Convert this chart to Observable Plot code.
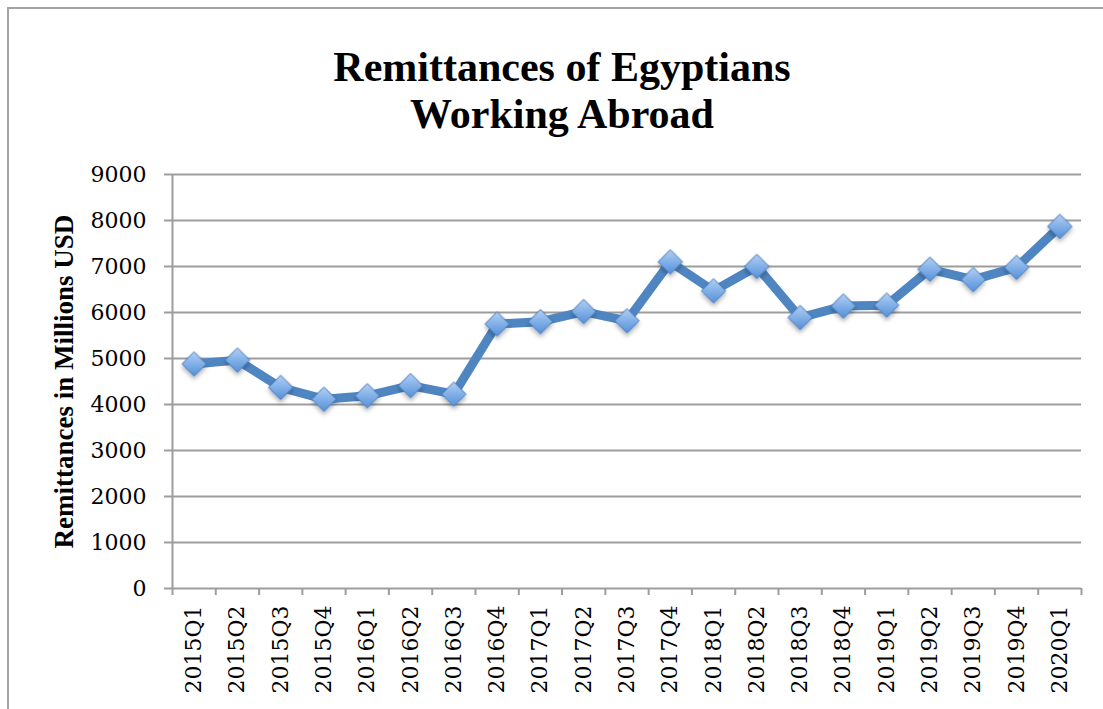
<!DOCTYPE html>
<html><head><meta charset="utf-8">
<script src="https://cdn.jsdelivr.net/npm/d3@7"></script>
<script src="https://cdn.jsdelivr.net/npm/@observablehq/plot@0.6"></script>
<style>
body{margin:0;background:#fff;overflow:hidden}
#wrap{position:relative;width:1103px;height:709px;overflow:hidden;background:#fff}
#frame{position:absolute;left:7px;top:7px;width:1200px;height:800px;border:2px solid #a3a3a3;}
#chart{position:absolute;left:0;top:0}
</style></head><body>
<div id="wrap"><div id="frame"></div><div id="chart"></div></div>
<script>
const quarters = ["2015Q1","2015Q2","2015Q3","2015Q4","2016Q1","2016Q2","2016Q3","2016Q4",
  "2017Q1","2017Q2","2017Q3","2017Q4","2018Q1","2018Q2","2018Q3","2018Q4",
  "2019Q1","2019Q2","2019Q3","2019Q4","2020Q1"];
const remittances = [4880, 4965, 4370, 4115, 4190, 4410, 4225, 5750, 5800, 6020, 5820,
  7100, 6470, 7000, 5890, 6140, 6160, 6940, 6715, 6980, 7870];
const yTicks = [0, 1000, 2000, 3000, 4000, 5000, 6000, 7000, 8000, 9000];
const titleText = "Remittances of Egyptians\nWorking Abroad";
const yTitle = "Remittances in Millions USD";

const data = quarters.map((q, i) => ({i, q, v: remittances[i]}));
const boundaries = d3.range(quarters.length + 1).map(i => i - 0.5);
const serif = "'DejaVu Serif', serif";
const gray = "#9d9d9d";

const plot = Plot.plot({
  width: 1103, height: 709,
  marginLeft: 172, marginRight: 22, marginTop: 174, marginBottom: 121,
  style: {background: "transparent", fontFamily: serif, fontSize: "22px", color: "#000", overflow: "visible"},
  x: {type: "linear", domain: [-0.5, quarters.length - 0.5], axis: null},
  y: {domain: [0, 9000], axis: null},
  marks: [
    Plot.gridY(yTicks, {stroke: gray, strokeOpacity: 1, strokeWidth: 2}),
    Plot.ruleX([-0.5], {stroke: gray, strokeWidth: 2}),
    Plot.axisY(yTicks, {tickSize: 8, tickPadding: 18, stroke: gray, strokeWidth: 2, fill: "#000", fontSize: 22, label: null, tickFormat: d => String(d)}),
    Plot.axisX(boundaries, {tickSize: 7, tickFormat: () => "", stroke: gray, strokeWidth: 2, label: null}),
    Plot.axisX(d3.range(quarters.length), {tickSize: 0, tickPadding: 17, tickRotate: -90, tickFormat: i => quarters[i], fill: "#000", fontSize: 22, label: null}),
    Plot.line(data, {x: "i", y: "v", stroke: "#4f86c2", strokeWidth: 9, strokeLinejoin: "round"}),
    Plot.dot(data, {x: "i", y: "v", symbol: "diamond2", r: 11, fill: "url(#dg)", stroke: "#4275b3", strokeWidth: 1}),
    Plot.text([titleText], {frameAnchor: "top", dx: -65, dy: -47, lineAnchor: "bottom", lineHeight: 1.1,
      fontFamily: "'Liberation Serif', serif", fontWeight: "bold", fontSize: 42, fill: "#000"}),
    Plot.text([yTitle], {frameAnchor: "left", dx: -108, rotate: -90, textAnchor: "middle", lineAnchor: "middle",
      fontFamily: "'Liberation Serif', serif", fontWeight: "bold", fontSize: 27, fill: "#000"})
  ]
});

const svg = d3.select(plot);
const defs = svg.insert("defs", ":first-child");
const g = defs.append("linearGradient").attr("id", "dg").attr("x1", 0).attr("y1", 0).attr("x2", 0).attr("y2", 1);
g.append("stop").attr("offset", "0%").attr("stop-color", "#b3d0f4");
g.append("stop").attr("offset", "50%").attr("stop-color", "#82b0e8");
g.append("stop").attr("offset", "100%").attr("stop-color", "#5590d8");
const f = defs.append("filter").attr("id", "sh").attr("x", "-50%").attr("y", "-50%").attr("width", "200%").attr("height", "200%");
f.append("feDropShadow").attr("dx", 0).attr("dy", 3).attr("stdDeviation", 2).attr("flood-color", "#000").attr("flood-opacity", 0.3);
svg.selectAll("g[aria-label='dot']").attr("filter", "url(#sh)");

document.getElementById("chart").appendChild(plot);
</script>
</body></html>
